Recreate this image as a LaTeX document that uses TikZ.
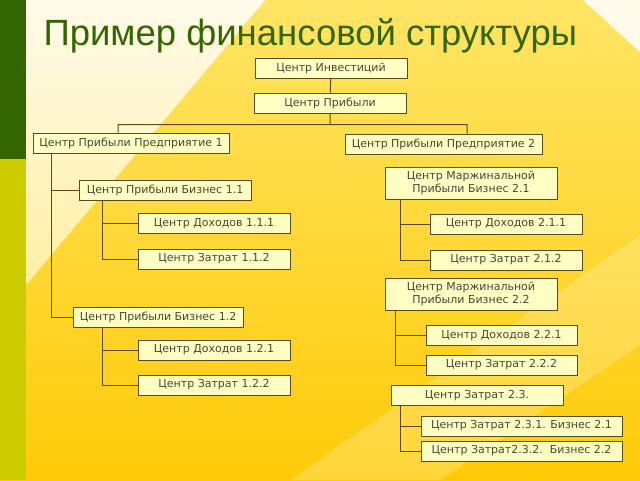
\documentclass[tikz,border=0pt]{standalone}
\usepackage{fontspec}
\setmainfont{DejaVu Sans}
\newfontfamily\titlefont{Liberation Sans}
\usetikzlibrary{positioning}

\definecolor{darkgreen}{HTML}{336600}
\definecolor{limebar}{HTML}{CCCC00}
\definecolor{boxfill}{HTML}{FFFFC4}
\definecolor{boxline}{HTML}{5C4A1C}
\definecolor{boxtext}{HTML}{4A4636}
\definecolor{cream}{HTML}{FFFBEA}
\definecolor{ytop}{HTML}{FFE566}
\definecolor{ybot}{HTML}{FFCB08}

\begin{document}
\begin{tikzpicture}[x=1pt,y=-1pt,
                    unit/.style={draw=boxline,fill=boxfill,text=boxtext,line width=1pt,
                                 inner sep=0pt,minimum height=20pt,font=\fontsize{11}{12.5}\selectfont},
                    link/.style={draw=boxline,line width=1pt}]
  % background
  \useasboundingbox (0,0) rectangle (640,480);
  \shade[top color=ytop,bottom color=ybot] (0,0) rectangle (640,480);
  \shade[top color=cream,bottom color=ytop!60!white] (26,0) -- (265,0) -- (26,285) -- cycle;
  \fill[white,opacity=0.2] (640,235) -- (640,345) -- (440,480) -- (290,480) -- cycle;
  \fill[cream] (583,0) -- (640,0) -- (640,52) -- cycle;
  \fill[darkgreen] (0,0) rectangle (26,159);
  \fill[limebar] (0,159) rectangle (26,480);

  \node[anchor=base west,text=darkgreen,font=\titlefont\fontsize{36.5}{42}\selectfont]
        (title) at (40,45) {Пример финансовой структуры};

  \node[unit,minimum width=152pt] (inv)  at (331,68)    {Центр Инвестиций};
  \node[unit,minimum width=152pt] (prib) at (330,103)   {Центр Прибыли};
  \node[unit,minimum width=196pt] (pr1)  at (131,143)   {Центр Прибыли Предприятие 1};
  \node[unit,minimum width=197pt] (pr2)  at (443.5,144) {Центр Прибыли Предприятие 2};

  \node[unit,minimum width=172pt] (b11)  at (165,190)   {Центр Прибыли Бизнес 1.1};
  \node[unit,minimum width=152pt] (d111) at (214,223.5) {Центр Доходов 1.1.1};
  \node[unit,minimum width=152pt] (z112) at (214,259)   {Центр Затрат 1.1.2};
  \node[unit,minimum width=170pt] (b12)  at (158,317)   {Центр Прибыли Бизнес 1.2};
  \node[unit,minimum width=152pt] (d121) at (214,350)   {Центр Доходов 1.2.1};
  \node[unit,minimum width=152pt] (z122) at (214,385)   {Центр Затрат 1.2.2};

  \node[unit,minimum width=172pt,minimum height=32pt,align=center] (m21) at (471,183)
        {Центр Маржинальной\\Прибыли Бизнес 2.1};
  \node[unit,minimum width=152pt] (d211) at (506,224)   {Центр Доходов 2.1.1};
  \node[unit,minimum width=152pt] (z212) at (506,260)   {Центр Затрат 2.1.2};
  \node[unit,minimum width=172pt,minimum height=32pt,align=center] (m22) at (471,294)
        {Центр Маржинальной\\Прибыли Бизнес 2.2};
  \node[unit,minimum width=151pt] (d221) at (501.5,335.5) {Центр Доходов 2.2.1};
  \node[unit,minimum width=151pt] (z222) at (501.5,365)   {Центр Затрат 2.2.2};
  \node[unit,minimum width=172pt] (z23)  at (477,395.5)   {Центр Затрат 2.3.};
  \node[unit,minimum width=201pt] (z231) at (521.5,426)   {Центр Затрат 2.3.1. Бизнес 2.1};
  \node[unit,minimum width=201pt] (z232) at (521.5,451)   {Центр Затрат2.3.2.\ \ Бизнес 2.2};

  \path[link] (inv) -- (prib)
              (prib.south) -- ++(0,11) coordinate (bus)
              ([xshift=-13pt]pr1.north) |- (bus) -| ([xshift=23.5pt]pr2.north);

  \path[link] ([xshift=19pt]pr1.south west) |- (b11.west)
              ([xshift=19pt]pr1.south west) |- (b12.west);
  \path[link] ([xshift=24pt]b11.south west) |- (d111.west)
              ([xshift=24pt]b11.south west) |- (z112.west);
  \path[link] ([xshift=30pt]b12.south west) |- (d121.west)
              ([xshift=30pt]b12.south west) |- (z122.west);

  \path[link] ([xshift=16pt]m21.south west) |- (d211.west)
              ([xshift=16pt]m21.south west) |- (z212.west);
  \path[link] ([xshift=11pt]m22.south west) |- (d221.west)
              ([xshift=11pt]m22.south west) |- (z222.west);
  \path[link] ([xshift=10pt]z23.south west) |- (z231.west)
              ([xshift=10pt]z23.south west) |- (z232.west);
\end{tikzpicture}
\end{document}
